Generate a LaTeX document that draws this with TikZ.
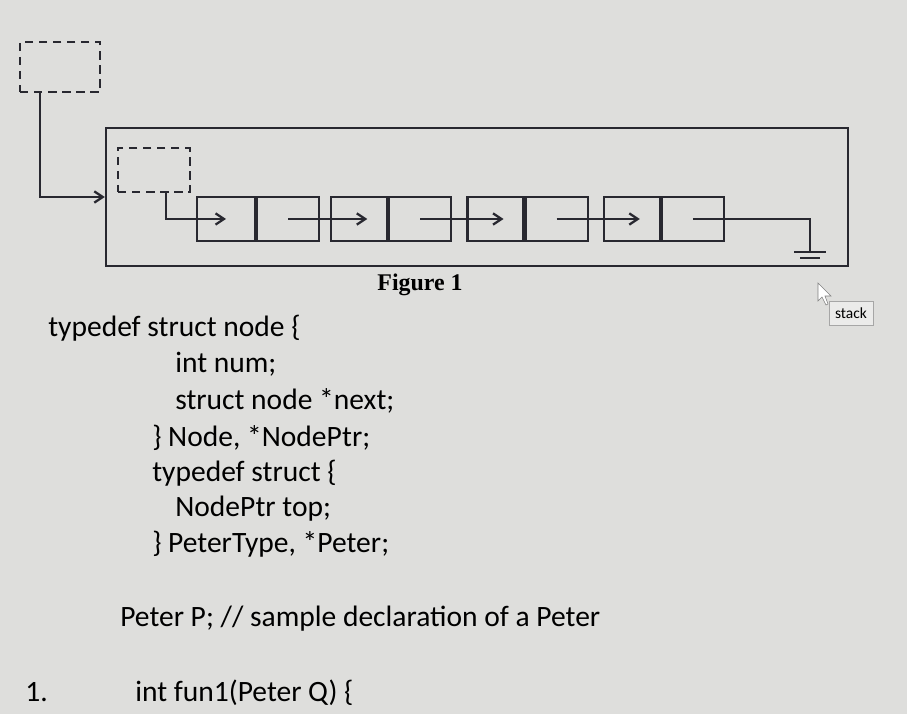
\documentclass[tikz,border=0pt]{standalone}
\usepackage{fontspec}
\setmainfont{Carlito}
\newfontfamily\figfont{Liberation Serif}
\usetikzlibrary{arrows.meta,positioning,calc}
\definecolor{screengray}{RGB}{222,222,220}
\definecolor{inkgray}{RGB}{40,40,48}
\begin{document}
\begin{tikzpicture}[x=0.025cm,y=-0.025cm,
    cell/.style={draw=inkgray,line width=1.5pt,minimum width=2cm,minimum height=1.1cm,inner sep=0pt},
    dbox/.style={draw=inkgray,dash pattern=on 6pt off 4pt,line width=1.6pt,inner sep=0pt},
    link/.style={draw=inkgray,line width=1.6pt,-{Straight Barb[length=6pt,width=8pt]}},
    code/.style={anchor=base west,inner sep=0pt,font=\fontsize{21}{25}\selectfont,text=black}
  ]
  \fill[screengray] (0,0) rectangle (907,714);
  \useasboundingbox (0,0) rectangle (907,714);
  % top pointer and stack box
  \node[dbox,minimum width=2cm,minimum height=1.25cm] (top) at (60,67) {};
  \node[draw=inkgray,line width=1.6pt,minimum width=18.55cm,minimum height=3.45cm,inner sep=0pt] (stack) at (477,197) {};
  \node[dbox,minimum width=1.8cm,minimum height=1.1cm] (head) at (154,170) {};
  % list nodes
  \node[cell,minimum width=1.45cm] (n1a) at (226,219) {};
  \node[cell,minimum width=1.55cm,right=0pt of n1a] (n1b) {};
  \node[cell,minimum width=1.4cm,right=0.25cm of n1b] (n2a) {};
  \node[cell,minimum width=1.55cm,right=0pt of n2a] (n2b) {};
  \node[cell,minimum width=1.4cm,right=0.35cm of n2b] (n3a) {};
  \node[cell,minimum width=1.55cm,right=0pt of n3a] (n3b) {};
  \node[cell,minimum width=1.4cm,right=0.35cm of n3b] (n4a) {};
  \node[cell,minimum width=1.55cm,right=0pt of n4a] (n4b) {};
  \coordinate (gnd) at (810,252);
  % connectors
  \draw[link] ([xshift=-0.5cm]top.south) |- (stack.west);
  \draw[link] ([xshift=0.3cm]head.south) |- (n1a.center);
  \draw[link] (n1b.center) -- ([xshift=0.2cm]n2a.center);
  \draw[link] (n2b.center) -- ([xshift=0.2cm]n3a.center);
  \draw[link] (n3b.center) -- ([xshift=0.2cm]n4a.center);
  \draw[inkgray,line width=1.5pt] (n4b.center) -| (gnd);
  \draw[inkgray,line width=1.5pt] ([xshift=-0.4cm]gnd) -- ([xshift=0.4cm]gnd)
    ([xshift=-0.25cm,yshift=-0.15cm]gnd) -- ([xshift=0.25cm,yshift=-0.15cm]gnd);
  \node[font=\figfont\bfseries\fontsize{17}{20}\selectfont] (cap) at (420,285) {Figure 1};
  % tooltip
  \draw[gray,fill=white] (818,283) -- (818,301) -- (822,297) -- (826,305) -- (828,304) -- (825,296) -- (831,296) -- cycle;
  \node[draw=gray!70,fill=screengray!60!white,font=\fontsize{11}{13}\selectfont,minimum width=1.1cm,minimum height=0.6cm] (tip) at (851,313) {stack};
  % code
  \node[code] (l1) at (48,337) {typedef struct node \{};
  \node[code] (l2) at (175,373) {int num;};
  \node[code] (l3) at (175,410) {struct node *next;};
  \node[code] (l4) at (152,446) {\} Node, *NodePtr;};
  \node[code] (l5) at (152,481) {typedef struct \{};
  \node[code] (l6) at (175,516) {NodePtr top;};
  \node[code] (l7) at (152,552) {\} PeterType, *Peter;};
  \node[code] (l8) at (120,626) {Peter P; // sample declaration of a Peter};
  \node[code] (l9) at (25,701) {1.};
  \node[code] (l10) at (135,701) {int fun1(Peter Q) \{};
\end{tikzpicture}
\end{document}
